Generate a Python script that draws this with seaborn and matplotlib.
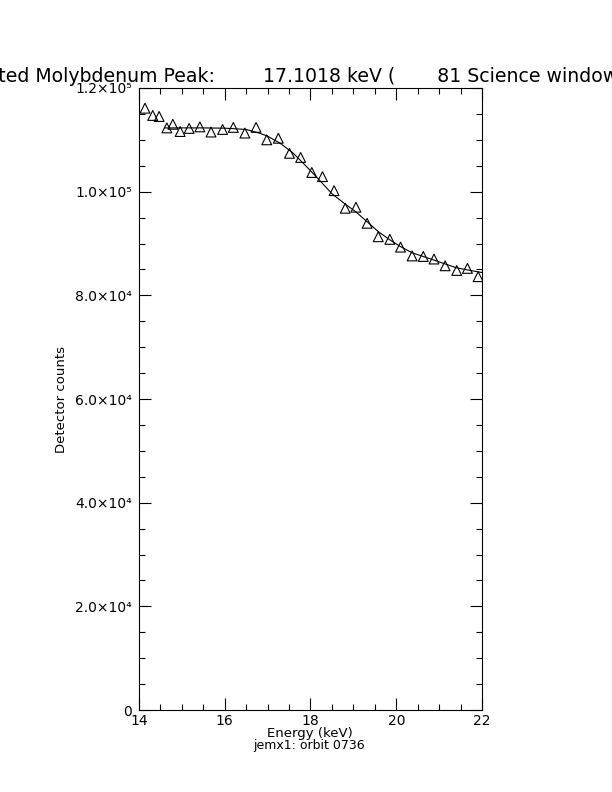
import numpy as np
import matplotlib
matplotlib.use("Agg")
import matplotlib.pyplot as plt
import seaborn as sns
from matplotlib.ticker import MultipleLocator, FuncFormatter

# measured points (energy in keV, detector counts)
energy = [14.14, 14.32, 14.47, 14.65, 14.79, 14.96, 15.17, 15.42, 15.68, 15.95,
          16.20, 16.47, 16.73, 16.98, 17.25, 17.51, 17.77, 18.03, 18.28, 18.55,
          18.81, 19.06, 19.32, 19.58, 19.85, 20.10, 20.37, 20.63, 20.88, 21.14,
          21.41, 21.66, 21.91]
counts = [116100, 114700, 114500, 112300, 113000, 111600, 112200, 112500, 111500, 112000,
          112400, 111300, 112400, 110000, 110300, 107400, 106600, 103700, 102900, 100200,
          96800, 97000, 93900, 91300, 90800, 89300, 87600, 87500, 87000, 85700,
          84800, 85200, 83600]

# fitted curve
fit_energy = [14.6, 15.0, 15.5, 16.0, 16.5, 16.8, 17.0, 17.3, 17.6, 17.9,
              18.2, 18.5, 18.81, 19.06, 19.32, 19.58, 19.85, 20.1, 20.37, 20.63,
              20.88, 21.14, 21.41, 21.66, 22.0]
fit_counts = [112300, 112300, 112300, 112250, 112000, 111300, 110700, 109300, 107400, 104900,
              102300, 99600, 97600, 96100, 94200, 92300, 90700, 89400, 88200, 87500,
              86800, 86050, 85300, 84900, 84400]

title = "Fitted Molybdenum Peak:        17.1018 keV (       81 Science windows)"

sns.set_style("ticks")
plt.rcParams['font.family'] = ['DejaVu Sans']
plt.rcParams['text.color'] = 'black'

fig = plt.figure(figsize=(6.12, 7.92), dpi=100)
ax = fig.add_axes([0.2271, 0.1035, 0.5605, 0.7854])

sns.lineplot(x=fit_energy, y=fit_counts, ax=ax, color="black", linewidth=0.8)
sns.scatterplot(x=energy, y=counts, ax=ax, marker="^", s=50,
                facecolor="none", edgecolor="black", linewidth=0.8, zorder=3)

ax.set_xlim(14, 22)
ax.set_ylim(0, 120000)
ax.xaxis.set_major_locator(MultipleLocator(2))
ax.xaxis.set_minor_locator(MultipleLocator(0.5))
ax.yaxis.set_major_locator(MultipleLocator(20000))
ax.yaxis.set_minor_locator(MultipleLocator(5000))

sup = str.maketrans("0123456789", "⁰¹²³⁴⁵⁶⁷⁸⁹")


def sci(v, pos):
    if v <= 0:
        return "0" if v == 0 else ""
    e = int(np.floor(np.log10(v)))
    return "%.1f×10%s" % (v / 10 ** e, str(e).translate(sup))


ax.yaxis.set_major_formatter(FuncFormatter(sci))
ax.tick_params(which="both", direction="in", top=True, right=True,
               width=0.8, labelsize=10, color="black", labelcolor="black")
ax.tick_params(which="major", length=8.5, pad=5)
ax.tick_params(axis="x", which="major", pad=3)
ax.tick_params(which="minor", length=4.3)
for s in ax.spines.values():
    s.set_linewidth(0.8)
    s.set_color("black")

ax.set_xlabel("")
ax.set_ylabel("Detector counts", fontsize=9.5, color="black")
ax.yaxis.set_label_coords(-0.207, 0.5)
fig.text(0.507, 1 - 733 / 792, "Energy (keV)", ha="center", va="center", fontsize=9.5)
fig.text(0.505, 1 - 745 / 792, "jemx1: orbit 0736", ha="center", va="center", fontsize=9)
fig.text(0.5, 1 - 77 / 792, title, ha="center", va="center", fontsize=13.6)

fig.savefig("out.png", dpi=100)
